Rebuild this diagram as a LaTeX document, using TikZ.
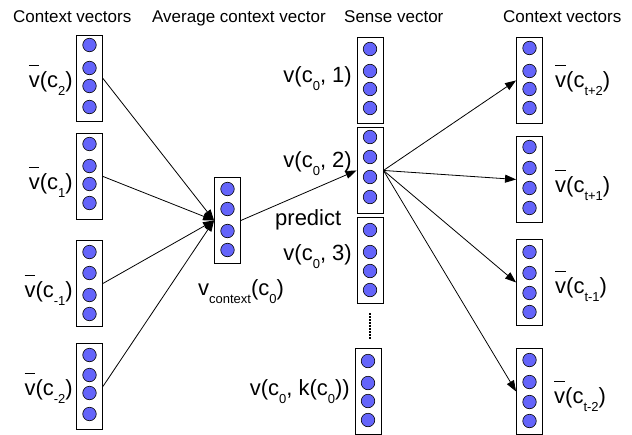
\documentclass[tikz,border=0pt]{standalone}
\usepackage{fontspec}
\setmainfont{Liberation Sans}
\usetikzlibrary{arrows.meta}
\definecolor{dotblue}{RGB}{100,100,250}
\newcommand\vbar{\makebox[0pt][l]{\raisebox{21pt}{\rule{10.5pt}{1.1pt}}}v}
\newcommand\sbs[1]{\raisebox{-8pt}{\fontsize{13}{13}\selectfont #1}}
\newcommand\vecunit[4]{%
  \node[vecbox] (#1) at (#2,#3) {};
  \foreach \cy [count=\k] in {#4} \node[unit] (#1-\k) at (#2,\cy) {};
}
\begin{document}
\begin{tikzpicture}[x=1pt,y=-1pt,
  vecbox/.style={draw, line width=0.9pt, fill=white, minimum width=26pt, minimum height=86pt, inner sep=0pt, anchor=north},
  unit/.style={circle, draw, line width=0.6pt, fill=dotblue, minimum size=13.5pt, inner sep=0pt},
  arr/.style={line width=0.8pt, -{Triangle[length=11pt,width=8pt]}},
  ttl/.style={font=\fontsize{17}{17}\selectfont, inner sep=0pt, anchor=base west},
  lbl/.style={font=\fontsize{22}{22}\selectfont, inner sep=0pt},
]
\useasboundingbox (0,0) rectangle (632,434);

% titles
\node[ttl] (t1) at (13,22) {Context vectors};
\node[ttl] (t2) at (152,22) {Average context vector};
\node[ttl] (t3) at (344,22) {Sense vector};
\node[ttl] (t4) at (503,22) {Context vectors};

% vector boxes
\vecunit{L1}{89.5}{35}{45,68,86,107}
\vecunit{L2}{89.5}{133}{144,166,184,203}
\vecunit{L3}{89.5}{240}{252,273,295,314}
\vecunit{L4}{89.5}{343}{355,375,393,414}
\vecunit{A}{227.5}{177}{189,209,231,250}
\vecunit{S1}{370}{37}{49,71,89,108}
\vecunit{S2}{370}{127}{137,157,177,197}
\vecunit{S3}{370}{217}{230,252,271,290}
\vecunit{S4}{368}{348}{361,383,401,420}
\vecunit{R1}{529.5}{37}{48,71,89,108}
\vecunit{R2}{529.5}{136}{147,168,188,208}
\vecunit{R3}{529.5}{239}{252,273,293,312}
\vecunit{R4}{529.5}{348}{360,382,402,421}

% dotted ellipsis
\draw[line width=1.6pt, dash pattern=on 1.6pt off 1.4pt] (370,313) -- (370,339);

% labels
\node[lbl, anchor=base east] (lL1) at (73,87) {\vbar(c\sbs{2})};
\node[lbl, anchor=base east] (lL2) at (73,189) {\vbar(c\sbs{1})};
\node[lbl, anchor=base east] (lL3) at (73,297) {\vbar(c\sbs{-1})};
\node[lbl, anchor=base east] (lL4) at (73,395) {\vbar(c\sbs{-2})};
\node[lbl, anchor=base] (lA) at (241,295) {v\sbs{context}(c\sbs{0})};
\node[lbl, anchor=base west] (lP) at (275,225) {predict};
\node[lbl, anchor=base east] (lS1) at (352,82) {v(c\sbs{0}, 1)};
\node[lbl, anchor=base east] (lS2) at (352,167) {v(c\sbs{0}, 2)};
\node[lbl, anchor=base east] (lS3) at (352,260) {v(c\sbs{0}, 3)};
\node[lbl, anchor=base east] (lS4) at (350,395) {v(c\sbs{0}, k(c\sbs{0}))};
\node[lbl, anchor=base west] (lR1) at (555,87) {\vbar(c\sbs{t+2})};
\node[lbl, anchor=base west] (lR2) at (555,192) {\vbar(c\sbs{t+1})};
\node[lbl, anchor=base west] (lR3) at (555,293) {\vbar(c\sbs{t-1})};
\node[lbl, anchor=base west] (lR4) at (554,403) {\vbar(c\sbs{t-2})};

% connectors
\draw[arr] (L1.east) -- (A.west);
\draw[arr] (L2.east) -- (A.west);
\draw[arr] (L3.east) -- (A.west);
\draw[arr] (L4.east) -- (A.west);
\draw[arr] (A.east) -- (S2.west);
\draw[arr] (S2.east) -- (R1.west);
\draw[arr] (S2.east) -- (R2.west);
\draw[arr] (S2.east) -- (R3.west);
\draw[arr] (S2.east) -- (R4.west);
\end{tikzpicture}
\end{document}
